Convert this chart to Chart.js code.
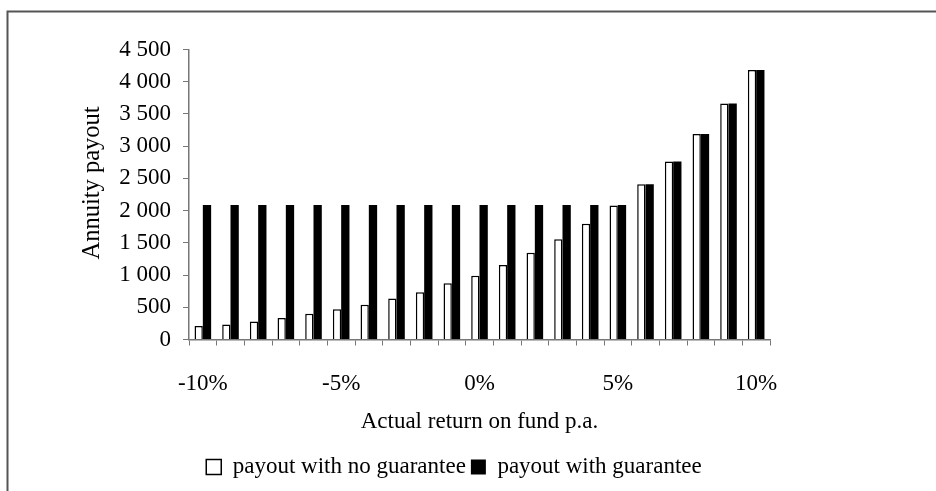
<!DOCTYPE html>
<html>
<head>
<meta charset="utf-8">
<script src="https://cdn.jsdelivr.net/npm/chart.js@4.4.1/dist/chart.umd.min.js"></script>
<style>
  html, body { margin: 0; padding: 0; background: #fff; }
  #wrap { width: 936px; height: 491px; position: relative; }
</style>
</head>
<body>
<div id="wrap"><canvas id="c" width="936" height="491"></canvas></div>
<script>
const categories = ['-10%','-9%','-8%','-7%','-6%','-5%','-4%','-3%','-2%','-1%','0%','1%','2%','3%','4%','5%','6%','7%','8%','9%','10%'];
const shownTickLabels = ['-10%','-5%','0%','5%','10%'];
const payoutNoGuarantee = [208, 234, 281, 333, 401, 468, 541, 635, 734, 874, 989, 1155, 1348, 1556, 1795, 2078, 2409, 2763, 3189, 3663, 4183];
const payoutWithGuarantee = [2086, 2086, 2086, 2086, 2086, 2086, 2086, 2086, 2086, 2086, 2086, 2086, 2086, 2086, 2086, 2086, 2409, 2763, 3189, 3663, 4183];
const seriesNames = ['payout with no guarantee', 'payout with guarantee'];
const yTicks = [0, 500, 1000, 1500, 2000, 2500, 3000, 3500, 4000, 4500];
const xTitle = 'Actual return on fund p.a.';
const yTitle = 'Annuity payout';

Chart.defaults.font.family = "'Liberation Serif', 'Times New Roman', serif";
Chart.defaults.font.size = 23;
Chart.defaults.color = '#000';

const framePlugin = {
  id: 'frame',
  beforeDraw(chart) {
    const ctx = chart.ctx;
    ctx.save();
    ctx.fillStyle = '#fff';
    ctx.fillRect(0, 0, chart.width, chart.height);
    ctx.strokeStyle = '#555';
    ctx.lineWidth = 2;
    ctx.strokeRect(7.5, 11.5, 1200, 1200);
    ctx.restore();
  }
};

// y-axis title, drawn slightly above the plot centre as in the original
const yTitlePlugin = {
  id: 'yTitle',
  afterDraw(chart) {
    const ctx = chart.ctx;
    ctx.save();
    ctx.translate(93, 183);
    ctx.rotate(-Math.PI / 2);
    ctx.textAlign = 'center';
    ctx.textBaseline = 'middle';
    ctx.fillStyle = '#000';
    ctx.font = "24.5px 'Liberation Serif', 'Times New Roman', serif";
    ctx.fillText(yTitle, 0, 0);
    ctx.restore();
  }
};

const legendShift = {
  id: 'legendShift',
  afterLayout(chart) {
    const lg = chart.legend;
    if (!lg) return;
    const target = 454;
    const cur = (lg.left + lg.right) / 2;
    const dx = target - cur;
    lg.left += dx; lg.right += dx;
  }
};

new Chart(document.getElementById('c'), {
  type: 'bar',
  data: {
    labels: categories,
    datasets: [
      { label: seriesNames[0], data: payoutNoGuarantee, backgroundColor: '#fff', borderColor: '#000', borderWidth: 1.5, borderSkipped: 'bottom' },
      { label: seriesNames[1], data: payoutWithGuarantee, backgroundColor: '#000', borderColor: '#000', borderWidth: 0 }
    ]
  },
  plugins: [framePlugin, yTitlePlugin, legendShift],
  options: {
    responsive: false,
    animation: false,
    devicePixelRatio: 1,
    layout: { padding: { left: 70, right: 166, top: 49.5, bottom: 2.5 } },
    datasets: { bar: { categoryPercentage: 0.6, barPercentage: 1.0 } },
    plugins: {
      tooltip: { enabled: false },
      legend: {
        position: 'bottom',
        labels: {
          boxWidth: 15, boxHeight: 15, padding: 5,
          font: { size: 23 }, color: '#000'
        }
      }
    },
    scales: {
      x: {
        grid: { display: true, drawOnChartArea: false, drawTicks: true, tickLength: 6, color: '#777', offset: true },
        border: { display: true, color: '#777', width: 1.5 },
        ticks: {
          autoSkip: false, maxRotation: 0, padding: 24.5,
          callback: function(v, i) { const l = categories[i]; return shownTickLabels.includes(l) ? l : ''; }
        },
        title: { display: true, text: xTitle, padding: { top: 0, bottom: 14.7 } },
        afterFit(scale) { scale.height = 111; }
      },
      y: {
        min: 0, max: 4500,
        afterBuildTicks(scale) { scale.ticks = yTicks.map(v => ({ value: v })); },
        grid: { display: true, drawOnChartArea: false, drawTicks: true, tickLength: 6, color: '#777' },
        border: { display: true, color: '#777', width: 1.5 },
        ticks: {
          padding: 12,
          callback: v => String(v).replace(/\B(?=(\d{3})+(?!\d))/g, ' ')
        },
        title: { display: false, text: yTitle },
        afterFit(scale) { scale.width = 119; }
      }
    }
  }
});
</script>
</body>
</html>
